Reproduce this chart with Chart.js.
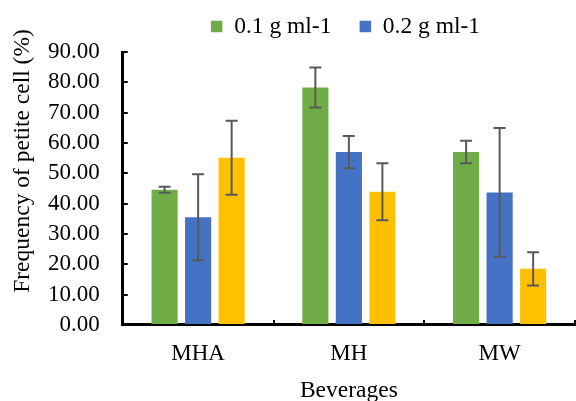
<!DOCTYPE html>
<html>
<head>
<meta charset="utf-8">
<script src="https://cdn.jsdelivr.net/npm/chart.js@4"></script>
<style>
  html, body { margin: 0; padding: 0; background: #fff; overflow: hidden; }
  #chart { display: block; }
</style>
</head>
<body>
<canvas id="chart" width="576" height="401"></canvas>
<script>
const categories = ["MHA", "MH", "MW"];
const seriesNames = ["0.1 g ml-1", "0.2 g ml-1", "0.3 g ml-1"];
const seriesColors = ["#70AD47", "#4472C4", "#FFC000"];
const low = [44.6, 78.3, 57.0];
const mid = [35.5, 57.0, 43.7];
const high = [55.1, 43.9, 18.5];
const lowErr = [1.0, 6.6, 3.7];
const midErr = [14.2, 5.3, 21.2];
const highErr = [12.2, 9.4, 5.5];
const yTitle = "Frequency of petite cell (%)";
const xTitle = "Beverages";

const serif = "'Times New Roman', 'Liberation Serif', serif";
Chart.defaults.font.family = serif;
Chart.defaults.color = "#000";
Chart.defaults.devicePixelRatio = 1;

// error bars drawn from the y scale
const errorBars = {
  id: "errorBars",
  afterDatasetsDraw(chart) {
    const ctx = chart.ctx;
    const y = chart.scales.y;
    ctx.save();
    ctx.strokeStyle = "#595959";
    ctx.lineWidth = 2;
    chart.data.datasets.forEach((ds, i) => {
      const meta = chart.getDatasetMeta(i);
      meta.data.forEach((bar, j) => {
        const top = y.getPixelForValue(ds.data[j] + ds.errors[j]);
        const bot = y.getPixelForValue(ds.data[j] - ds.errors[j]);
        ctx.beginPath();
        ctx.moveTo(bar.x, top);
        ctx.lineTo(bar.x, bot);
        ctx.moveTo(bar.x - 6, top);
        ctx.lineTo(bar.x + 6, top);
        ctx.moveTo(bar.x - 6, bot);
        ctx.lineTo(bar.x + 6, bot);
        ctx.stroke();
      });
    });
    ctx.restore();
  },
};

// y title sits higher than the plot centre in the original
const sideTitle = {
  id: "sideTitle",
  afterDraw(chart) {
    const ctx = chart.ctx;
    ctx.save();
    ctx.translate(23, 161);
    ctx.rotate(-Math.PI / 2);
    ctx.font = "23.5px " + serif;
    ctx.fillStyle = "#000";
    ctx.textAlign = "center";
    ctx.textBaseline = "middle";
    ctx.fillText(yTitle, 0, 0);
    ctx.restore();
  },
};

// the original legend is cut off on the right; move the visible part into place
const nudgeLegend = {
  id: "nudgeLegend",
  afterLayout(chart) {
    const lg = chart.legend;
    lg.left += 48;
    lg.right += 48;
    lg.top -= 3.75;
    lg.bottom -= 3.75;
  },
};

const values = [low, mid, high];
const errs = [lowErr, midErr, highErr];

const chart = new Chart(document.getElementById("chart"), {
  type: "bar",
  data: {
    labels: categories,
    datasets: seriesNames.map((name, i) => ({
      label: name,
      data: values[i],
      errors: errs[i],
      backgroundColor: seriesColors[i],
      borderWidth: 0,
      categoryPercentage: 0.667,
      barPercentage: 0.78,
    })),
  },
  options: {
    responsive: false,
    maintainAspectRatio: false,
    animation: false,
    layout: { padding: { left: 20, right: 1, top: -9.7, bottom: 0 } },
    plugins: {
      tooltip: { enabled: false },
      legend: {
        position: "top",
        labels: {
          boxWidth: 11.5,
          boxHeight: 11.5,
          padding: 28.2,
          font: { size: 23.5 },
          filter: (item) => item.datasetIndex < 2,
        },
      },
    },
    scales: {
      x: {
        grid: {
          drawOnChartArea: false,
          drawTicks: true,
          tickLength: -5,
          color: "#000",
          lineWidth: 2,
        },
        border: { display: true, color: "#000", width: 3 },
        ticks: { font: { size: 23 }, padding: 20, color: "#000" },
        title: {
          display: true,
          text: xTitle,
          font: { size: 23.5, lineHeight: 1 },
          padding: { top: -8, bottom: -2 },
          color: "#000",
        },
      },
      y: {
        min: 0,
        max: 90,
        grid: {
          drawOnChartArea: false,
          drawTicks: true,
          tickLength: -5,
          color: "#000",
          lineWidth: 2,
        },
        border: { display: true, color: "#000", width: 3 },
        ticks: {
          stepSize: 10,
          autoSkip: false,
          padding: 28,
          font: { size: 23 },
          color: "#000",
          callback: (v) => v.toFixed(2),
        },
      },
    },
  },
  plugins: [errorBars, sideTitle, nudgeLegend],
});
</script>
</body>
</html>
